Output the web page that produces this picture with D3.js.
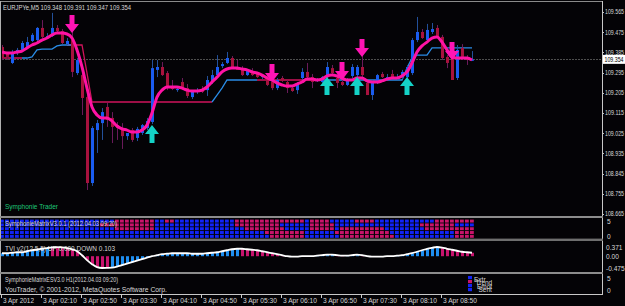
<!DOCTYPE html>
<html><head><meta charset="utf-8">
<script src="https://cdn.jsdelivr.net/npm/d3@7"></script>
<style>html,body{margin:0;padding:0;background:#000;overflow:hidden}svg{display:block}text{font-family:"Liberation Sans",Arial,sans-serif}</style>
</head><body><svg id="c" width="625" height="306"></svg>
<script>
// ---------- DATA ----------
const symbolTitle = "EURJPYe,M5  109.348 109.391 109.347 109.354";
const open = [109.409,109.378,109.338,109.382,109.396,109.409,109.436,109.440,109.494,109.454,
109.458,109.494,109.480,109.422,109.440,109.293,109.284,109.186,108.803,109.039,
109.070,109.142,109.093,109.061,109.048,109.012,109.039,109.004,109.026,109.048,
109.075,109.307,109.320,109.293,109.235,109.217,109.253,109.226,109.186,109.209,
109.217,109.217,109.253,109.284,109.324,109.338,109.360,109.320,109.307,109.284,
109.302,109.293,109.275,109.271,109.253,109.226,109.271,109.253,109.226,109.217,
109.271,109.298,109.275,109.262,109.253,109.275,109.315,109.271,109.253,109.240,
109.280,109.284,109.320,109.249,109.195,109.253,109.289,109.271,109.289,109.266,
109.275,109.275,109.293,109.440,109.476,109.440,109.476,109.494,109.454,109.365,
109.365,109.271,109.405,109.360,109.348];
const high = [109.418,109.387,109.396,109.405,109.436,109.454,109.471,109.498,109.529,109.471,
109.561,109.507,109.489,109.449,109.485,109.360,109.293,109.195,109.057,109.084,
109.137,109.160,109.119,109.075,109.070,109.026,109.048,109.053,109.066,109.093,
109.351,109.351,109.342,109.302,109.262,109.231,109.271,109.244,109.217,109.226,
109.235,109.280,109.307,109.373,109.342,109.387,109.369,109.351,109.324,109.307,
109.315,109.298,109.289,109.284,109.262,109.271,109.280,109.262,109.240,109.253,
109.315,109.338,109.289,109.271,109.280,109.342,109.329,109.289,109.262,109.271,
109.333,109.329,109.369,109.262,109.262,109.289,109.298,109.289,109.307,109.289,
109.307,109.329,109.449,109.543,109.489,109.512,109.516,109.507,109.463,109.373,
109.396,109.418,109.422,109.373,109.391];
const low = [109.351,109.351,109.333,109.373,109.387,109.405,109.431,109.436,109.449,109.445,
109.454,109.471,109.422,109.418,109.275,109.284,109.106,108.772,108.790,108.937,
108.995,109.053,108.981,108.995,108.955,108.995,108.986,108.990,109.017,109.039,
109.066,109.275,109.280,109.217,109.217,109.209,109.217,109.182,109.177,109.200,
109.204,109.191,109.244,109.275,109.315,109.333,109.315,109.307,109.280,109.280,
109.280,109.271,109.266,109.235,109.217,109.217,109.253,109.204,109.209,109.200,
109.262,109.271,109.226,109.253,109.249,109.271,109.289,109.226,109.235,109.235,
109.271,109.275,109.275,109.195,109.173,109.244,109.271,109.262,109.271,109.262,
109.266,109.271,109.284,109.431,109.445,109.436,109.467,109.449,109.351,109.315,
109.262,109.262,109.351,109.329,109.347];
const close = [109.360,109.365,109.387,109.396,109.427,109.431,109.463,109.494,109.454,109.458,
109.494,109.480,109.427,109.436,109.298,109.351,109.182,108.803,109.048,109.070,
109.119,109.084,109.053,109.048,109.012,109.026,108.995,109.044,109.061,109.079,
109.315,109.320,109.284,109.231,109.222,109.222,109.226,109.191,109.209,109.217,
109.209,109.262,109.284,109.320,109.333,109.360,109.320,109.307,109.284,109.302,
109.284,109.275,109.280,109.240,109.226,109.262,109.258,109.226,109.213,109.244,
109.298,109.275,109.253,109.266,109.275,109.320,109.293,109.249,109.240,109.266,
109.320,109.320,109.284,109.195,109.253,109.284,109.275,109.275,109.275,109.271,
109.298,109.320,109.440,109.476,109.449,109.485,109.489,109.454,109.360,109.338,
109.262,109.396,109.365,109.351,109.354];
const smoothLine = [109.387,109.382,109.382,109.387,109.391,109.405,109.418,109.427,109.440,109.449,
109.463,109.471,109.471,109.467,109.449,109.396,109.320,109.226,109.142,109.106,
109.093,109.093,109.079,109.057,109.044,109.039,109.030,109.030,109.039,109.061,
109.115,109.186,109.217,109.231,109.231,109.231,109.226,109.217,109.213,109.213,
109.217,109.231,109.253,109.275,109.298,109.311,109.315,109.315,109.311,109.307,
109.298,109.293,109.284,109.271,109.262,109.249,109.240,109.235,109.235,109.244,
109.253,109.266,109.266,109.262,109.266,109.280,109.284,109.280,109.271,109.262,
109.262,109.271,109.271,109.258,109.253,109.253,109.258,109.266,109.271,109.271,
109.280,109.298,109.338,109.387,109.414,109.431,109.449,109.454,109.431,109.396,
109.365,109.360,109.360,109.360,109.351];
const N = null;
const trailUp = [N,N,N,N,109.360,109.360,109.365,109.396,109.400,109.400,
109.400,109.414,109.418,109.418,109.418,N,N,N,N,N,
N,N,N,N,N,N,N,N,N,N,
N,N,N,N,N,N,N,N,N,N,
N,N,109.164,109.195,109.226,109.262,109.262,109.262,109.262,109.262,
109.262,109.262,N,N,N,N,N,N,N,N,
N,N,109.262,109.262,109.262,109.262,109.262,109.262,109.262,109.262,
109.262,109.262,109.262,109.262,109.262,109.262,109.262,109.262,109.262,109.262,
109.262,109.315,109.360,109.373,109.373,109.373,109.405,109.405,109.405,109.405,
109.405,109.405,109.405,109.405,109.405];
const trailDown = [109.360,109.360,109.360,109.360,109.360,N,N,N,N,N,
N,N,N,109.418,109.418,109.418,109.418,109.293,109.164,109.164,
109.164,109.164,109.164,109.164,109.164,109.164,109.164,109.164,109.164,109.164,
109.164,109.164,109.164,109.164,109.164,109.164,109.164,109.164,109.164,109.164,
109.164,109.164,109.164,N,N,N,N,N,N,N,
N,109.262,109.262,109.262,109.262,109.262,109.262,109.262,109.262,109.262,
109.262,109.262,109.262,N,N,N,N,N,N,N,
N,N,N,N,N,N,N,N,N,N,
N,N,N,N,N,N,N,N,N,N,
N,N,N,N,N];
const sellBars = [14,54,68,72,90];
const sellPrices = [109.471,109.253,109.262,109.365,109.351];
const buyBars = [30,65,71,81];
const buyPrices = [109.061,109.275,109.275,109.275];
const currentPrice = 109.354;
const priceTicks = [109.565,109.475,109.385,109.295,109.205,109.115,109.025,108.935,108.845,108.755,108.665];
const timeLabels = ["3 Apr 2012","3 Apr 02:10","3 Apr 02:50","3 Apr 03:30","3 Apr 04:10","3 Apr 04:50",
                    "3 Apr 05:30","3 Apr 06:10","3 Apr 06:50","3 Apr 07:30","3 Apr 08:10","3 Apr 08:50"];
const timeLabelBars = [0,8,16,24,32,40,48,56,64,72,80,88];
// matrix rows, top to bottom: b = blue, r = red
const matrixRows = [
 "bbbbbbbbbbbbbbbbbbbbbbb"+"rrrrrrrr"+"bb"+"rr"+"bbbbbbbbbbbb"+"rrrrrrrrrrrrrr"+"b"+"rrrr"+"bbbbb"+"rrrr"+"bbbbbbbbbbbb"+"rrrrrrrr",
 "bbbbbbbbbbbbbbbbbbbb"+"rrrrrrrrrrr"+"bbbbbbbbbbbbbbbb"+"rrrrrrrrr"+"bbbbbb"+"rrrrr"+"bbbbbbbbbbbbbbbbb"+"rrrrrrr"+"bbbb",
 "bbbbbbbbbbbbbbbbbbbbbbb"+"rrrrrrrr"+"bbbbbbbbbbbbbbbbbb"+"rrrrrrrr"+"bbbbb"+"rrrrr"+"b"+"rrrrrrrrr"+"bbbbbbbb"+"rrrrrrrrrr",
 "bbbbbbbbbbbbbbbbbbbbbbbbbbbbbbbbbbbbbbbbbbbbbbbbbbbbb"+"rrrrrrrr"+"bbbbbb"+"rrrrrrrrrrr"+"bbbbbbbbbbbbb"+"rrrr",
 "bbbbbbbbbbbbbbbbbbbbbbbbbbbbbbbbbbbbbbbbbbbbbbbbbbbbbb"+"rrrrrrr"+"bbbbbbb"+"rrrrrrrrrrr"+"bbbbbbbbbbbb"+"rrrr"
];
const tvi = [0.12,0.12,0.14,0.16,0.16,0.20,0.24,0.27,0.30,0.33,
0.36,0.37,0.36,0.33,0.28,0.20,0.04,-0.16,-0.32,-0.44,
-0.475,-0.47,-0.46,-0.42,-0.36,-0.30,-0.24,-0.18,-0.12,-0.06,
0.00,0.04,0.08,0.10,0.12,0.12,0.12,0.12,0.10,0.10,
0.10,0.12,0.14,0.16,0.20,0.24,0.28,0.30,0.30,0.28,
0.26,0.24,0.20,0.16,0.12,0.08,0.04,0.00,-0.02,-0.02,
0.00,0.00,0.00,0.02,0.04,0.06,0.06,0.04,0.02,0.02,
0.04,0.06,0.04,0.00,-0.02,-0.02,-0.02,0.00,0.00,0.02,
0.04,0.08,0.12,0.18,0.24,0.30,0.34,0.371,0.35,0.30,
0.26,0.22,0.18,0.16,0.14];
const tviColors = "bbbbbbbbbb"+"rrrrrrrrrrrr"+"bbbbbbbbbbbbbbbbbbbbbbbbbb"+"rrrrrrrrrrrr"+"bbbbbbb"+"rr"+"bbb"+"rrrrr"+"bbbbbbbbbbb"+"rrrrrrr";
const tviTicks = [0.371, 0.00, -0.475];
const tviTickLabels = ["0.371","0.00","-0.475"];
const legendNames = ["Extr","Trend","Emot","Sent"];
const legendColors = ["b","r","b","b"];

// ---------- DRAW ----------
const W=625, H=306, n=close.length;
const svg=d3.select('#c');
svg.append('rect').attr('width',W).attr('height',H).attr('fill','#040306');
const defs=svg.append('defs');
defs.append('clipPath').attr('id','mainClip').append('rect').attr('x',2).attr('y',2).attr('width',600).attr('height',213);

const x=d3.scaleLinear().domain([0,94]).range([2,472]);
const y=d3.scaleLinear().domain([108.665,109.565]).range([214,12]);
const idx=d3.range(n);
const txt='#d8d8d8';
const BULL='#1a5cf0', BEAR='#a8123e', BULLW='#23509a', BEARW='#6a1a5a';
const AX=6.6;

const g=svg.append('g').attr('clip-path','url(#mainClip)');
g.append('line').attr('x1',2).attr('x2',602).attr('y1',Math.round(y(currentPrice))+0.5).attr('y2',Math.round(y(currentPrice))+0.5)
 .attr('stroke','#4e4e4e').attr('stroke-dasharray','2,1');

const lineOf=arr=>d3.line().defined(i=>arr[i]!=null).x(i=>x(i)).y(i=>y(arr[i]));
g.append('path').attr('d',lineOf(trailDown)(idx)).attr('fill','none').attr('stroke','#d0145c').attr('stroke-width',1.3);
g.append('path').attr('d',lineOf(trailUp)(idx)).attr('fill','none').attr('stroke','#2a8ce6').attr('stroke-width',1.3);

g.selectAll('line.wick').data(idx).join('line').attr('class','wick')
 .attr('x1',i=>Math.round(x(i))+0.5).attr('x2',i=>Math.round(x(i))+0.5)
 .attr('y1',i=>y(high[i])).attr('y2',i=>y(low[i]))
 .attr('stroke',i=>close[i]>=open[i]?BULLW:BEARW).attr('stroke-width',1);
g.selectAll('rect.body').data(idx).join('rect').attr('class','body')
 .attr('x',i=>Math.round(x(i))-1).attr('width',3)
 .attr('y',i=>y(Math.max(open[i],close[i])))
 .attr('height',i=>Math.max(1,Math.abs(y(open[i])-y(close[i]))))
 .attr('fill',i=>close[i]>=open[i]?BULL:BEAR);

g.append('path').attr('d',d3.line().x(i=>x(i)).y(i=>y(smoothLine[i])).curve(d3.curveMonotoneX)(idx))
 .attr('fill','none').attr('stroke','#ff12a4').attr('stroke-width',3).attr('stroke-linejoin','round');

function downArrow(cx,ty){return `M${cx-2.5},${ty-18}L${cx+2.5},${ty-18}L${cx+2.5},${ty-9}L${cx+7},${ty-9}L${cx},${ty}L${cx-7},${ty-9}L${cx-2.5},${ty-9}Z`;}
function upArrow(cx,ty){return `M${cx-2.5},${ty+18}L${cx+2.5},${ty+18}L${cx+2.5},${ty+9}L${cx+7},${ty+9}L${cx},${ty}L${cx-7},${ty+9}L${cx-2.5},${ty+9}Z`;}
g.selectAll('path.sell').data(sellBars).join('path').attr('class','sell')
 .attr('d',(b,k)=>downArrow(x(b),y(sellPrices[k]))).attr('fill','#ff14b4');
g.selectAll('path.buy').data(buyBars).join('path').attr('class','buy')
 .attr('d',(b,k)=>upArrow(x(b),y(buyPrices[k]))).attr('fill','#14d2c6');

svg.append('text').attr('x',3).attr('y',10).attr('font-size',7).attr('fill',txt)
 .attr('textLength',128).attr('lengthAdjust','spacingAndGlyphs').text(symbolTitle);
svg.append('text').attr('x',5).attr('y',209).attr('font-size',7.2).attr('fill','#1ec87a')
 .attr('textLength',53).attr('lengthAdjust','spacingAndGlyphs').text('Symphonie Trader');

// price axis
svg.selectAll('text.pt').data(priceTicks).join('text').attr('class','pt')
 .attr('x',605).attr('y',p=>y(p)+2.4).attr('font-size',AX).attr('fill',txt)
 .attr('textLength',19).attr('lengthAdjust','spacingAndGlyphs').text(p=>p.toFixed(3));
svg.selectAll('line.ptk').data(priceTicks).join('line').attr('class','ptk')
 .attr('x1',602).attr('x2',604).attr('y1',p=>Math.round(y(p))+0.5).attr('y2',p=>Math.round(y(p))+0.5).attr('stroke','#c0c0c0');
const cy=y(currentPrice);
svg.append('rect').attr('x',603).attr('y',cy-4.5).attr('width',22).attr('height',9).attr('fill','#ffffff');
svg.append('text').attr('x',604.5).attr('y',cy+2.5).attr('font-size',AX).attr('fill','#000')
 .attr('textLength',19).attr('lengthAdjust','spacingAndGlyphs').text(currentPrice.toFixed(3));

// matrix panel
const rowScale=d3.scaleBand().domain(d3.range(5)).range([219.6,237.8]).paddingInner(0.22);
const cells=[];
matrixRows.forEach((row,r)=>{for(let i=0;i<row.length;i++)cells.push({r,i,c:row[i]});});
svg.append('g').selectAll('rect').data(cells).join('rect')
 .attr('x',d=>Math.round(x(d.i))-2).attr('width',3.8)
 .attr('y',d=>rowScale(d.r)).attr('height',rowScale.bandwidth())
 .attr('fill',d=>d.c==='r'?'#c8146a':'#1224f8');
svg.append('text').attr('x',5).attr('y',226).attr('font-size',7.2).attr('fill',txt)
 .attr('textLength',112).attr('lengthAdjust','spacingAndGlyphs').text('SymphonieMatrixV3.0.1 (2012.04.03 09:20)');
svg.append('text').attr('x',607).attr('y',224).attr('font-size',AX).attr('fill',txt).text('5');
svg.append('text').attr('x',607).attr('y',239).attr('font-size',AX).attr('fill',txt).text('0');

// TVI panel
const yT=d3.scaleLinear().domain([-0.475,0.371]).range([268,247]);
svg.append('g').selectAll('rect').data(idx).join('rect')
 .attr('x',i=>Math.round(x(i))-1).attr('width',3)
 .attr('y',i=>Math.min(yT(0),yT(tvi[i]))).attr('height',i=>Math.abs(yT(tvi[i])-yT(0)))
 .attr('fill',i=>tviColors[i]==='r'?'#c8146e':'#1e8ef0');
svg.append('text').attr('x',5).attr('y',251).attr('font-size',7.2).attr('fill',txt)
 .attr('textLength',110).attr('lengthAdjust','spacingAndGlyphs').text('TVI v2(12,5,5) UP 0.000 DOWN 0.103');
svg.append('path').attr('d',d3.line().x(i=>x(i)).y(i=>yT(tvi[i])).curve(d3.curveMonotoneX)(idx))
 .attr('fill','none').attr('stroke','#ffffff').attr('stroke-width',1.8);
svg.selectAll('text.tv').data(tviTicks).join('text').attr('class','tv')
 .attr('x',606).attr('y',v=>yT(v)+2.5).attr('font-size',AX).attr('fill',txt).text((v,k)=>tviTickLabels[k]);

// ES panel
svg.append('text').attr('x',5).attr('y',282).attr('font-size',7.2).attr('fill',txt)
 .attr('textLength',113).attr('lengthAdjust','spacingAndGlyphs').text('SymphonieMatrixESV3.0 H1(2012.04.03 09:20)');
svg.append('text').attr('x',5).attr('y',292).attr('font-size',7.2).attr('fill',txt)
 .attr('textLength',162).attr('lengthAdjust','spacingAndGlyphs').text('YouTrader, \u00a9 2001-2012, MetaQuotes Software Corp.');
svg.append('text').attr('x',607).attr('y',281).attr('font-size',AX).attr('fill',txt).text('5');
svg.append('text').attr('x',607).attr('y',293).attr('font-size',AX).attr('fill',txt).text('0');
legendNames.forEach((nm,k)=>{
  svg.append('rect').attr('x',468).attr('y',276+k*4).attr('width',4).attr('height',3.2)
   .attr('fill',legendColors[k]==='r'?'#c8146a':'#1224f8');
  svg.append('text').attr('x',474+k*1.5).attr('y',282+k*3.4).attr('font-size',6.5).attr('fill',txt).text(nm);
});

// frames / separators
svg.append('line').attr('x1',0).attr('x2',602).attr('y1',1.5).attr('y2',1.5).attr('stroke','#8a8a8a');
svg.append('line').attr('x1',0.5).attr('x2',0.5).attr('y1',1).attr('y2',295).attr('stroke','#b0b0b0');
svg.append('line').attr('x1',602.5).attr('x2',602.5).attr('y1',1).attr('y2',295).attr('stroke','#c8c8c8');
svg.append('rect').attr('x',0).attr('y',216).attr('width',603).attr('height',2).attr('fill','#8c8c8c');
svg.append('rect').attr('x',0).attr('y',238.6).attr('width',603).attr('height',2.4).attr('fill','#6e6e6e');
svg.append('rect').attr('x',0).attr('y',272).attr('width',603).attr('height',2).attr('fill','#8c8c8c');
svg.append('line').attr('x1',0).attr('x2',603).attr('y1',294.5).attr('y2',294.5).attr('stroke','#c8c8c8');

// time axis
svg.selectAll('line.tt').data(timeLabelBars).join('line').attr('class','tt')
 .attr('x1',b=>Math.round(x(b))-0.5).attr('x2',b=>Math.round(x(b))-0.5).attr('y1',295).attr('y2',298).attr('stroke','#c8c8c8');
svg.selectAll('text.tl').data(timeLabelBars).join('text').attr('class','tl')
 .attr('x',b=>Math.round(x(b))+1).attr('y',303).attr('font-size',AX).attr('fill',txt)
 .attr('textLength',(b,k)=>k===0?31:34).attr('lengthAdjust','spacingAndGlyphs').text((b,k)=>timeLabels[k]);
</script></body></html>
